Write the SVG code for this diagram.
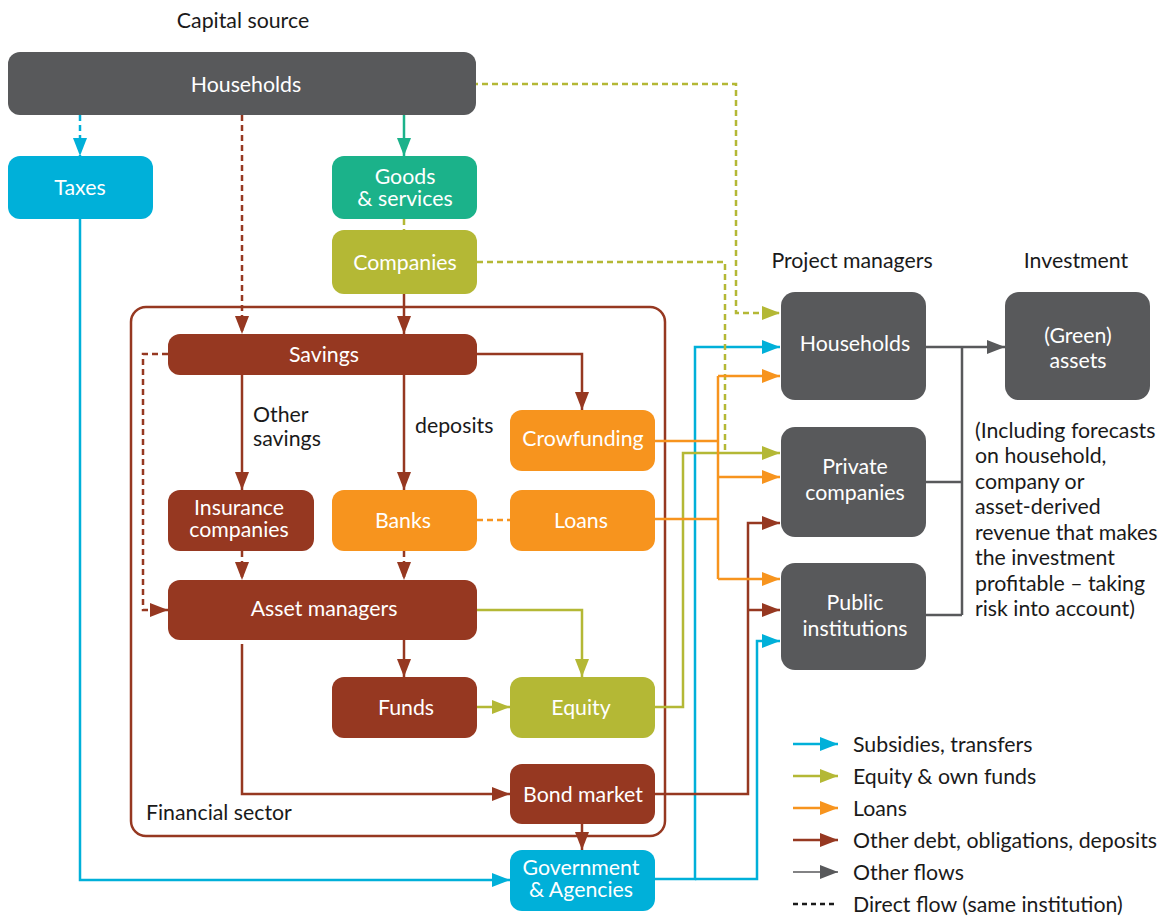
<svg xmlns="http://www.w3.org/2000/svg" width="1167" height="916" viewBox="0 0 1167 916">
<defs>
<style>
text{font-family:Lato,"Open Sans","Liberation Sans",sans-serif}
.nt{fill:#fff;font-size:21.3px;text-anchor:middle}
.lb{fill:#1a1a1a;font-size:21.3px}
.c{fill:none;stroke-width:2.5}
.d{stroke-dasharray:6 4}
.cy{stroke:#00b0d9}
.ol{stroke:#b4b835}
.te{stroke:#1bb28a}
.br{stroke:#963821}
.or{stroke:#f7941e}
.gr{stroke:#58595b}
.gray{fill:#58595b}
.fcy{fill:#00b0d9}
.fte{fill:#1bb28a}
.fol{fill:#b4b835}
.fbr{fill:#963821}
.for{fill:#f7941e}
</style>
<marker id="aCy" markerUnits="userSpaceOnUse" markerWidth="18" markerHeight="14" refX="18" refY="7" orient="auto"><path d="M0,0 L18,7 L0,14 z" fill="#00b0d9"/></marker>
<marker id="aOl" markerUnits="userSpaceOnUse" markerWidth="18" markerHeight="14" refX="18" refY="7" orient="auto"><path d="M0,0 L18,7 L0,14 z" fill="#b4b835"/></marker>
<marker id="aTe" markerUnits="userSpaceOnUse" markerWidth="18" markerHeight="14" refX="18" refY="7" orient="auto"><path d="M0,0 L18,7 L0,14 z" fill="#1bb28a"/></marker>
<marker id="aBr" markerUnits="userSpaceOnUse" markerWidth="18" markerHeight="14" refX="18" refY="7" orient="auto"><path d="M0,0 L18,7 L0,14 z" fill="#963821"/></marker>
<marker id="aOr" markerUnits="userSpaceOnUse" markerWidth="18" markerHeight="14" refX="18" refY="7" orient="auto"><path d="M0,0 L18,7 L0,14 z" fill="#f7941e"/></marker>
<marker id="aGr" markerUnits="userSpaceOnUse" markerWidth="18" markerHeight="14" refX="18" refY="7" orient="auto"><path d="M0,0 L18,7 L0,14 z" fill="#58595b"/></marker>
</defs>
<rect width="1167" height="916" fill="#fff"/>

<!-- Labels -->
<g id="labels">
<text class="lb" x="243" y="28" text-anchor="middle">Capital source</text>
<text class="lb" x="852" y="268" text-anchor="middle">Project managers</text>
<text class="lb" x="1076" y="268" text-anchor="middle">Investment</text>
<text class="lb" x="146" y="820">Financial sector</text>
<text class="lb" x="253" y="422">Other</text>
<text class="lb" x="253" y="446">savings</text>
<text class="lb" x="415" y="433">deposits</text>
<text class="lb" x="975" y="438">(Including forecasts</text>
<text class="lb" x="975" y="463">on household,</text>
<text class="lb" x="975" y="489">company or</text>
<text class="lb" x="975" y="514">asset-derived</text>
<text class="lb" x="975" y="540">revenue that makes</text>
<text class="lb" x="975" y="565">the investment</text>
<text class="lb" x="975" y="591">profitable – taking</text>
<text class="lb" x="975" y="616">risk into account)</text>
</g>

<!-- Financial sector frame -->
<rect id="financial-sector" x="131" y="307" width="534" height="529" rx="15" fill="none" stroke="#963821" stroke-width="2.5"/>

<g id="connectors">
<!-- cyan -->
<path class="c cy d" d="M80,115 V156" marker-end="url(#aCy)"/>
<path class="c cy" d="M80,219 V880 H510" marker-end="url(#aCy)"/>
<path class="c cy" d="M655,879 H695 V347 H780" marker-end="url(#aCy)"/>
<path class="c cy" d="M695,879 H757 V641 H780" marker-end="url(#aCy)"/>
<!-- olive -->
<path class="c ol d" d="M472,84 H736 V313 H780" marker-end="url(#aOl)"/>
<path class="c ol d" d="M477,262 H725 V453"/>
<path class="c ol d" d="M404,219 V230"/>
<path class="c ol" d="M477,610 H582 V677" marker-end="url(#aOl)"/>
<path class="c ol" d="M477,707 H510" marker-end="url(#aOl)"/>
<path class="c ol" d="M655,707 H683 V453 H780" marker-end="url(#aOl)"/>
<!-- teal -->
<path class="c te" d="M404,115 V156" marker-end="url(#aTe)"/>
<!-- brown -->
<path class="c br d" d="M242,115 V334" marker-end="url(#aBr)"/>
<path class="c br d" d="M168,354 H143 V610 H168" marker-end="url(#aBr)"/>
<path class="c br d" d="M242,551 V580" marker-end="url(#aBr)"/>
<path class="c br d" d="M404,551 V580" marker-end="url(#aBr)"/>
<path class="c br" d="M404,294 V334" marker-end="url(#aBr)"/>
<path class="c br" d="M477,354 H582 V410" marker-end="url(#aBr)"/>
<path class="c br" d="M242,375 V490" marker-end="url(#aBr)"/>
<path class="c br" d="M404,375 V490" marker-end="url(#aBr)"/>
<path class="c br" d="M404,640 V677" marker-end="url(#aBr)"/>
<path class="c br" d="M242,644 V794 H510" marker-end="url(#aBr)"/>
<path class="c br" d="M582,824 V850" marker-end="url(#aBr)"/>
<path class="c br" d="M655,794 H748 V523 H780" marker-end="url(#aBr)"/>
<path class="c br" d="M748,610 H780" marker-end="url(#aBr)"/>
<!-- orange -->
<path class="c or d" d="M477,520 H510"/>
<path class="c or" d="M655,441 H718"/>
<path class="c or" d="M655,519 H718"/>
<path class="c or" d="M718,376 V579"/>
<path class="c or" d="M718,376 H780" marker-end="url(#aOr)"/>
<path class="c or" d="M718,477 H780" marker-end="url(#aOr)"/>
<path class="c or" d="M718,579 H780" marker-end="url(#aOr)"/>
<!-- gray -->
<path class="c gr" d="M926,347 H1005" marker-end="url(#aGr)"/>
<path class="c gr" d="M962,347 V615"/>
<path class="c gr" d="M926,482 H962"/>
<path class="c gr" d="M926,615 H962"/>
</g>

<g id="households-source"><rect class="gray" x="8" y="52" width="468" height="63" rx="12"/><text class="nt" x="246" y="92">Households</text></g>
<g id="taxes"><rect class="fcy" x="8" y="156" width="145" height="63" rx="12"/><text class="nt" x="80" y="195">Taxes</text></g>
<g id="goods-services"><rect class="fte" x="332" y="156" width="145" height="63" rx="12"/><text class="nt" x="405" y="184">Goods</text><text class="nt" x="405" y="206">&amp; services</text></g>
<g id="companies"><rect class="fol" x="332" y="230" width="145" height="64" rx="12"/><text class="nt" x="405" y="270">Companies</text></g>
<g id="savings"><rect class="fbr" x="168" y="334" width="309" height="41" rx="12"/><text class="nt" x="324" y="362">Savings</text></g>
<g id="crowfunding"><rect class="for" x="510" y="410" width="145" height="61" rx="12"/><text class="nt" x="583" y="446">Crowfunding</text></g>
<g id="insurance"><rect class="fbr" x="168" y="490" width="146" height="61" rx="12"/><text class="nt" x="239" y="515">Insurance</text><text class="nt" x="239" y="537">companies</text></g>
<g id="banks"><rect class="for" x="332" y="490" width="145" height="61" rx="12"/><text class="nt" x="403" y="528">Banks</text></g>
<g id="loans"><rect class="for" x="510" y="490" width="145" height="61" rx="12"/><text class="nt" x="581" y="528">Loans</text></g>
<g id="asset-managers"><rect class="fbr" x="168" y="580" width="309" height="60" rx="12"/><text class="nt" x="324" y="616">Asset managers</text></g>
<g id="funds"><rect class="fbr" x="332" y="677" width="145" height="61" rx="12"/><text class="nt" x="406" y="715">Funds</text></g>
<g id="equity"><rect class="fol" x="510" y="677" width="145" height="61" rx="12"/><text class="nt" x="581" y="715">Equity</text></g>
<g id="bond-market"><rect class="fbr" x="510" y="764" width="145" height="60" rx="12"/><text class="nt" x="583" y="802">Bond market</text></g>
<g id="government"><rect class="fcy" x="510" y="850" width="145" height="61" rx="12"/><text class="nt" x="581" y="875">Government</text><text class="nt" x="581" y="897">&amp; Agencies</text></g>
<g id="households-pm"><rect class="gray" x="781" y="292" width="145" height="108" rx="14"/><text class="nt" x="855" y="351">Households</text></g>
<g id="private-companies"><rect class="gray" x="781" y="427" width="145" height="110" rx="14"/><text class="nt" x="855" y="474">Private</text><text class="nt" x="855" y="500">companies</text></g>
<g id="public-institutions"><rect class="gray" x="781" y="563" width="145" height="107" rx="14"/><text class="nt" x="855" y="610">Public</text><text class="nt" x="855" y="636">institutions</text></g>
<g id="green-assets"><rect class="gray" x="1005" y="292" width="145" height="108" rx="14"/><text class="nt" x="1078" y="343">(Green)</text><text class="nt" x="1078" y="368">assets</text></g>

<g id="legend">
<path class="c cy" d="M793,744 H838" marker-end="url(#aCy)"/>
<path class="c ol" d="M793,776 H838" marker-end="url(#aOl)"/>
<path class="c or" d="M793,808 H838" marker-end="url(#aOr)"/>
<path class="c br" d="M793,840 H838" marker-end="url(#aBr)"/>
<path class="c gr" style="stroke-width:1.5" d="M793,872 H838" marker-end="url(#aGr)"/>
<path class="c d" style="stroke:#1a1a1a;stroke-dasharray:5 4" d="M793,904 H838"/>
<text class="lb" x="853" y="752">Subsidies, transfers</text>
<text class="lb" x="853" y="784">Equity &amp; own funds</text>
<text class="lb" x="853" y="816">Loans</text>
<text class="lb" x="853" y="848">Other debt, obligations, deposits</text>
<text class="lb" x="853" y="880">Other flows</text>
<text class="lb" x="853" y="912">Direct flow (same institution)</text>
</g>
</svg>
